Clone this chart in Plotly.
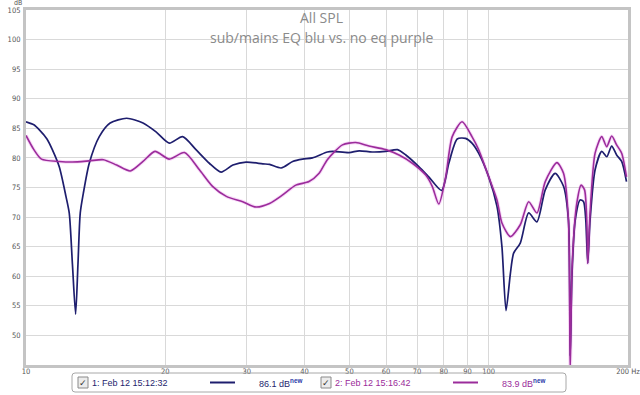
import plotly.graph_objects as go

# ---- data ----
blue_freq = [10.0, 10.4, 10.7, 11.1, 11.4, 11.8, 12.2, 12.4, 12.6, 12.8, 12.95, 13.1, 13.3, 13.7, 14.4, 15.2, 16.5,
             17.9, 19.1, 20.4, 21.8, 23.3, 24.9, 26.4, 28.0, 29.9, 32.5, 33.6, 35.6, 37.7, 39.6,
             41.6, 44.8, 46.0, 49.9, 52.5, 56.0, 59.9, 63.5, 66.2, 70.7, 74.2, 79.1, 82.0, 85.5,
             89.1, 92.0, 95.1, 100.0, 104.2, 106.8, 109.0, 111.4, 113.2, 117.0, 122.0, 127.1,
             132.5, 139.2, 145.1, 148.7, 150.0, 151.3, 153.8, 157.6, 160.3, 162.1, 163.7, 165.6,
             169.8, 175.5, 179.9, 184.4, 189.0, 193.8, 198.5]
blue_db = [86.1, 85.6, 84.7, 83.2, 81.4, 78.5, 73.5, 70.7, 62.0, 53.6, 62.0, 70.7, 74.0, 79.1, 83.6, 85.9, 86.7,
           85.9, 84.4, 82.5, 83.6, 81.4, 79.1, 77.6, 78.8, 79.3, 79.0, 78.9, 78.3, 79.4, 79.8,
           80.0, 81.0, 81.1, 80.9, 81.2, 81.0, 81.1, 81.4, 80.5, 78.5, 76.8, 74.5, 79.1, 83.2,
           83.3, 82.5, 80.8, 76.8, 71.8, 65.0, 54.2, 60.5, 63.9, 65.6, 70.7, 69.2,
           74.6, 77.4, 75.2, 69.5, 46.5, 60.0, 69.5, 72.9, 72.6, 69.5, 62.2, 69.5,
           78.0, 81.1, 80.2, 82.0, 80.5, 79.4, 76.0]

purple_freq = [10.0, 10.4, 10.8, 11.8, 12.6, 13.7, 14.7, 15.7, 16.8, 17.9, 19.0, 20.4, 22.0, 23.7,
               25.3, 27.1, 29.4, 31.4, 33.6, 35.8, 38.3, 40.9, 43.0, 44.8, 48.3, 51.6, 55.1,
               59.9, 64.0, 68.4, 73.1, 75.5, 78.0, 80.7, 83.4, 87.6, 92.0, 95.1, 100.0, 104.2,
               106.8, 111.4, 117.0, 122.0, 127.1, 132.5, 140.4, 145.1, 148.7, 150.0, 151.5, 155.0,
               158.4, 161.1, 162.9, 163.7, 165.6, 169.8, 175.5, 179.9, 184.4, 189.0, 193.8, 198.5]
purple_db = [83.8, 81.4, 79.8, 79.4, 79.3, 79.5, 79.7, 78.8, 77.8, 79.4, 81.1, 79.8, 80.9, 78.0,
             75.2, 73.5, 72.6, 71.7, 72.3, 73.7, 75.4, 76.0, 77.4, 79.7, 82.2, 82.6, 82.0,
             81.4, 80.5, 79.1, 77.1, 75.2, 72.2, 76.7, 83.6, 86.1, 83.6, 81.4, 76.8, 72.9,
             69.0, 66.7, 68.7, 72.6, 70.7, 76.0, 79.2, 77.4, 69.5, 44.0, 62.0, 72.3,
             75.4, 74.6, 69.5, 62.2, 70.7, 80.8, 83.6, 81.9, 83.7, 82.2, 80.8, 76.8]

x_tick_vals = [10, 20, 30, 40, 50, 60, 70, 80, 90, 100, 200]
x_tick_text = ["10", "20", "30", "40", "50", "60", "70", "80", "90", "100", "200 Hz"]
y_tick_vals = [50, 55, 60, 65, 70, 75, 80, 85, 90, 95, 100, 105]

legend_names = ["1: Feb 12 15:12:32", "2: Feb 12 15:16:42"]
legend_levels = ["86.1 dB", "83.9 dB"]

title_1 = "All SPL"
title_2 = "sub/mains EQ blu vs. no eq purple"

NAVY = "#1e1e6e"
PURPLE = "#9b2c9b"

# ---- geometry helpers (pixel -> paper) ----
W, H = 640, 395
ML, MR, MT, MB = 26, 12, 10, 30
PW, PH = W - ML - MR, H - MT - MB


def px(x):
    return (x - ML) / PW


def py(y):
    return (H - MB - y) / PH


fig = go.Figure()
fig.add_trace(go.Scatter(x=purple_freq, y=purple_db, mode="lines",
                         line=dict(color="rgba(235,150,235,0.35)", width=3.5, shape="spline", smoothing=0.7),
                         hoverinfo="skip", showlegend=False))
fig.add_trace(go.Scatter(x=blue_freq, y=blue_db, mode="lines",
                         line=dict(color=NAVY, width=1.7, shape="spline", smoothing=0.7),
                         name=legend_names[0], showlegend=False))
fig.add_trace(go.Scatter(x=purple_freq, y=purple_db, mode="lines",
                         line=dict(color=PURPLE, width=1.6, shape="spline", smoothing=0.7),
                         name=legend_names[1], showlegend=False))

tick_font = dict(family="Liberation Sans Narrow, DejaVu Sans Condensed, Liberation Sans", size=7.5, color="#555")

fig.update_xaxes(type="log", range=[1, 2.30103], tickvals=x_tick_vals, ticktext=x_tick_text,
                 showgrid=True, gridcolor="#d9d9d9", gridwidth=1, zeroline=False,
                 showline=True, linecolor="#c4c4c4", linewidth=3, mirror=True,
                 ticks="", tickfont=tick_font, ticklabelstandoff=-3, automargin=False,
                 ticklabeloverflow="allow")
fig.update_yaxes(range=[45, 105], tickvals=y_tick_vals,
                 showgrid=True, gridcolor="#d9d9d9", gridwidth=1, zeroline=False,
                 showline=True, linecolor="#c4c4c4", linewidth=3, mirror=True,
                 ticks="", tickfont=tick_font, ticklabelstandoff=1, automargin=False,
                 ticklabeloverflow="allow")

ann = []
ann.append(dict(x=px(18), y=py(2.5), xref="paper", yref="paper", text="dB", showarrow=False,
                font=dict(family=tick_font["family"], size=7, color="#555"), xanchor="center", yanchor="middle"))
ann.append(dict(x=px(321), y=py(18), xref="paper", yref="paper", text=title_1, showarrow=False,
                font=dict(family="Open Sans", size=14, color="#8a8a8a"), xanchor="center", yanchor="middle"))
ann.append(dict(x=px(321), y=py(37), xref="paper", yref="paper", text=title_2, showarrow=False,
                font=dict(family="Open Sans", size=14, color="#8a8a8a"), xanchor="center", yanchor="middle"))

shapes = []
# legend box (rounded)
x0, x1, y0, y1 = px(72), px(566), py(373), py(392)
rx, ry = 3 / PW, 3 / PH
path = (f"M {x0+rx},{y0} L {x1-rx},{y0} Q {x1},{y0} {x1},{y0-ry} L {x1},{y1+ry} Q {x1},{y1} {x1-rx},{y1} "
        f"L {x0+rx},{y1} Q {x0},{y1} {x0},{y1+ry} L {x0},{y0-ry} Q {x0},{y0} {x0+rx},{y0} Z")
shapes.append(dict(type="path", path=path, xref="paper", yref="paper",
                   line=dict(color="#a8a8a8", width=1), fillcolor="rgba(0,0,0,0)", layer="above"))

leg_font = dict(family="Liberation Sans", size=9)
ly = 382.5
for cbx, name, linex, col in [(78, legend_names[0], 210, NAVY),
                               (321, legend_names[1], 453, PURPLE)]:
    shapes.append(dict(type="rect", xref="paper", yref="paper", x0=px(cbx), x1=px(cbx + 10),
                       y0=py(ly - 5.5), y1=py(ly + 5.5), line=dict(color="#8a8a8a", width=1),
                       fillcolor="#ececec", layer="above"))
    ann.append(dict(x=px(cbx + 5), y=py(ly), xref="paper", yref="paper", text="✓", showarrow=False,
                    font=dict(family="DejaVu Sans", size=9, color="#333"), xanchor="center", yanchor="middle"))
    ann.append(dict(x=px(cbx + 12), y=py(ly), xref="paper", yref="paper", text=name, showarrow=False,
                    font=dict(color=col, **leg_font), xanchor="left", yanchor="middle"))
    shapes.append(dict(type="line", xref="paper", yref="paper", x0=px(linex), x1=px(linex + 25),
                       y0=py(ly), y1=py(ly), line=dict(color=col, width=2), layer="above"))
lvl_x = [257, 500]
for i, col in enumerate([NAVY, PURPLE]):
    ann.append(dict(x=px(lvl_x[i]), y=py(ly), xref="paper", yref="paper",
                    text=legend_levels[i] + "<sup><b><span style='color:#2a3aa8'>new</span></b></sup>",
                    showarrow=False, font=dict(color=col, **leg_font), xanchor="left", yanchor="middle"))

fig.update_layout(width=W, height=H, margin=dict(l=ML, r=MR, t=MT, b=MB, autoexpand=False),
                  paper_bgcolor="white", plot_bgcolor="white",
                  annotations=ann, shapes=shapes, showlegend=False)

fig.write_html("out.html", config={"displayModeBar": False},
               post_script="document.body.style.margin='0';document.body.style.padding='0';")
